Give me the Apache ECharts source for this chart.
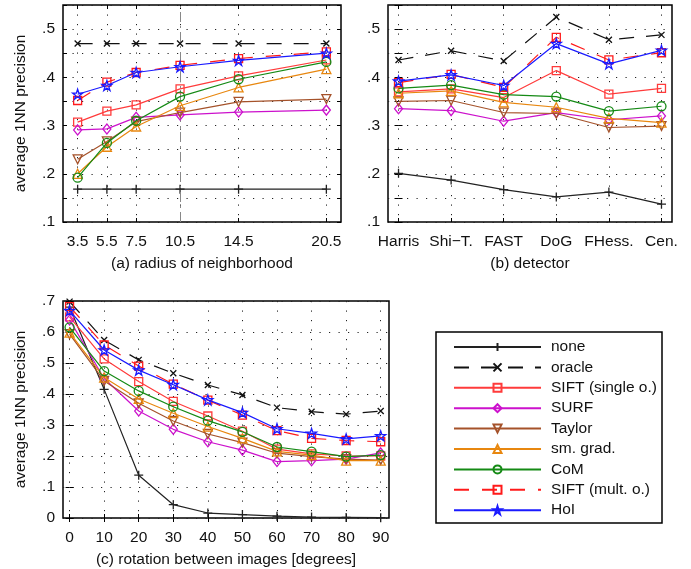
<!DOCTYPE html>
<html><head><meta charset="utf-8">
<script src="https://cdn.jsdelivr.net/npm/echarts@6/dist/echarts.min.js"></script>
<style>html,body{margin:0;padding:0;background:#fff}#c{width:691px;height:569px}</style>
</head><body><div id="c"></div>
<script>
// ---------- data ----------
const seriesNames = ['none','oracle','SIFT (single o.)','SURF','Taylor','sm. grad.','CoM','SIFT (mult. o.)','HoI'];

// (a) radius of neighborhood
const radius = [3.5, 5.5, 7.5, 10.5, 14.5, 20.5];
const highlightRadius = 10.5;
const a_none   = [0.168, 0.168, 0.168, 0.168, 0.168, 0.168];
const a_oracle = [0.470, 0.470, 0.470, 0.470, 0.470, 0.470];
const a_siftS  = [0.307, 0.330, 0.343, 0.376, 0.403, 0.436];
const a_surf   = [0.291, 0.293, 0.317, 0.322, 0.328, 0.332];
const a_taylor = [0.230, 0.267, 0.308, 0.327, 0.349, 0.355];
const a_smgrad = [0.200, 0.256, 0.298, 0.341, 0.379, 0.417];
const a_com    = [0.192, 0.264, 0.310, 0.360, 0.396, 0.432];
const a_siftM  = [0.352, 0.390, 0.410, 0.425, 0.439, 0.453];
const a_hoi    = [0.365, 0.383, 0.410, 0.422, 0.435, 0.450];

// (b) detector
const detectors = ['Harris', 'Shi\u2212T.', 'FAST', 'DoG', 'FHess.', 'Cen.'];
const b_none   = [0.201, 0.187, 0.167, 0.152, 0.162, 0.137];
const b_oracle = [0.436, 0.455, 0.434, 0.525, 0.478, 0.488];
const b_siftS  = [0.370, 0.376, 0.358, 0.414, 0.365, 0.377];
const b_surf   = [0.335, 0.331, 0.309, 0.327, 0.312, 0.320];
const b_taylor = [0.350, 0.352, 0.327, 0.325, 0.296, 0.299];
const b_smgrad = [0.367, 0.372, 0.348, 0.338, 0.315, 0.306];
const b_com    = [0.377, 0.384, 0.364, 0.360, 0.330, 0.340];
const b_siftM  = [0.389, 0.406, 0.379, 0.483, 0.436, 0.451];
const b_hoi    = [0.392, 0.405, 0.383, 0.470, 0.428, 0.456];

// (c) rotation between images
const rotation = [0, 10, 20, 30, 40, 50, 60, 70, 80, 90];
const c_none   = [0.680, 0.415, 0.138, 0.043, 0.016, 0.011, 0.006, 0.003, 0.002, 0.001];
const c_oracle = [0.698, 0.574, 0.510, 0.467, 0.429, 0.397, 0.356, 0.343, 0.335, 0.345];
const c_siftS  = [0.649, 0.513, 0.440, 0.376, 0.329, 0.280, 0.222, 0.207, 0.200, 0.200];
const c_surf   = [0.639, 0.450, 0.345, 0.286, 0.246, 0.219, 0.182, 0.185, 0.190, 0.210];
const c_taylor = [0.593, 0.442, 0.370, 0.313, 0.271, 0.243, 0.209, 0.198, 0.190, 0.187];
const c_smgrad = [0.598, 0.453, 0.384, 0.338, 0.295, 0.257, 0.215, 0.203, 0.185, 0.185];
const c_com    = [0.615, 0.474, 0.410, 0.359, 0.314, 0.278, 0.229, 0.214, 0.198, 0.203];
const c_siftM  = [0.682, 0.558, 0.490, 0.432, 0.380, 0.332, 0.282, 0.257, 0.250, 0.246];
const c_hoi    = [0.669, 0.542, 0.477, 0.430, 0.381, 0.340, 0.288, 0.273, 0.255, 0.265];

const detectorTicks = detectors.map((d, i) => i);

// ---------- styles ----------
const FONT = '"Liberation Sans", Arial, sans-serif';
const FS = 15.5;
const STAR = 'path://M50,0L61.23,34.55L97.55,34.55L68.17,55.9L79.39,90.45L50,69.1L20.61,90.45L31.83,55.9L2.45,34.55L38.77,34.55Z';
const PLUS = 'path://M5,0L5,10M0,5L10,5';
const CROSS = 'path://M0,0L10,10M10,0L0,10';
const styles = [
  {color:'#222222', symbol:PLUS, size:9, dash:'solid'},
  {color:'#111111', symbol:CROSS, size:6, dash:[15,12]},
  {color:'#ff3b3b', symbol:'rect', size:8, dash:'solid'},
  {color:'#cc11cc', symbol:'diamond', size:[8,10], dash:'solid'},
  {color:'#a5522a', symbol:'triangle', size:9, dash:'solid', rotate:180},
  {color:'#e8870f', symbol:'triangle', size:9, dash:'solid'},
  {color:'#158a15', symbol:'circle', size:9, dash:'solid'},
  {color:'#ff1a1a', symbol:'rect', size:8, dash:[15,13]},
  {color:'#1a1aff', symbol:STAR, size:10, dash:'solid'}
];

const panels = [
  {x: radius, ys: [a_none,a_oracle,a_siftS,a_surf,a_taylor,a_smgrad,a_com,a_siftM,a_hoi]},
  {x: detectorTicks, ys: [b_none,b_oracle,b_siftS,b_surf,b_taylor,b_smgrad,b_com,b_siftM,b_hoi]},
  {x: rotation, ys: [c_none,c_oracle,c_siftS,c_surf,c_taylor,c_smgrad,c_com,c_siftM,c_hoi]}
];

const series = [];
panels.forEach((p, pi) => {
  p.ys.forEach((ys, si) => {
    const st = styles[si];
    const s = {
      type:'line', name: seriesNames[si], xAxisIndex: pi, yAxisIndex: pi,
      data: p.x.map((xv, k) => [xv, ys[k]]),
      symbol: st.symbol, symbolSize: st.size, symbolRotate: st.rotate || 0,
      showAllSymbol: true, animation: false, silent: true,
      color: st.color,
      lineStyle: {color: st.color, width: 1.2, type: st.dash},
      itemStyle: {color: 'transparent', borderColor: st.color, borderWidth: 1.3},
      z: 3 + si
    };
    if (pi === 0 && si === 0) {
      s.markLine = {silent:true, symbol:'none', animation:false, label:{show:false},
        lineStyle:{color:'#888', width:1, type:[10,4,2,4]},
        data:[{xAxis: highlightRadius}]};
    }
    series.push(s);
  });
});

const fmtY = v => {
  const t = Math.round(v * 100);
  if (t % 10 !== 0) return '';
  if (t === 0) return '0';
  return '.' + (t / 10);
};
const dotted = {show:true, lineStyle:{color:'#222', width:1, type:[1.2,8.3]}};
const labelStyle = {color:'#111', fontFamily: FONT, fontSize: FS};
const nameStyle = {color:'#111', fontFamily: FONT, fontSize: FS};

const grids = [
  {left:63, top:5, width:278, height:217},
  {left:388, top:5, width:284, height:217},
  {left:63, top:301, width:326, height:217}
].map(g => Object.assign(g, {show:true, borderColor:'#000', borderWidth:1.5, backgroundColor:'#fff', containLabel:false, outerBoundsMode:'none'}));

const xDefs = [
  {min:2.5, max:21.5, ticks: radius, fmt: v => String(v), name:'(a) radius of neighborhood'},
  {min:-0.2, max:5.2, ticks: detectorTicks, fmt: v => detectors[Math.round(v)], name:'(b) detector'},
  {min:-1.9, max:92.4, ticks: rotation, fmt: v => String(v), name:'(c) rotation between images [degrees]'}
];
const xAxes = [];
xDefs.forEach((d, i) => {
  xAxes.push({type:'value', gridIndex:i, position:'bottom', min:d.min, max:d.max,
    name:d.name, nameLocation:'middle', nameGap:34, nameTextStyle:nameStyle, nameMoveOverlap:false,
    axisLine:{show:false},
    axisTick:{show:true, inside:true, length:4, customValues:d.ticks, lineStyle:{color:'#000'}},
    axisLabel:{show:true, customValues:d.ticks, formatter:d.fmt, margin:12, hideOverlap:false, showMinLabel:true, showMaxLabel:true, ...labelStyle},
    splitLine: dotted});
});
xDefs.forEach((d, i) => {
  xAxes.push({type:'value', gridIndex:i, position:'top', min:d.min, max:d.max,
    axisLine:{show:false}, axisLabel:{show:false}, splitLine:{show:false},
    axisTick:{show:true, inside:true, length:4, customValues:d.ticks, lineStyle:{color:'#000'}}});
});
const yDefs = [
  {min:0.1, max:0.55, interval:0.05, name:'average 1NN precision'},
  {min:0.1, max:0.55, interval:0.05, name:''},
  {min:0, max:0.7, interval:0.1, name:'average 1NN precision'}
];
const yAxes = [];
yDefs.forEach((d, i) => {
  yAxes.push({type:'value', gridIndex:i, position:'left', min:d.min, max:d.max, interval:d.interval,
    name:d.name, nameLocation:'middle', nameGap:34, nameTextStyle:nameStyle, nameMoveOverlap:false,
    axisLine:{show:false},
    axisTick:{show:true, inside:true, length:4, lineStyle:{color:'#000'}},
    axisLabel:{show:true, formatter:fmtY, margin:8, showMinLabel:true, showMaxLabel:true, ...labelStyle},
    splitLine: dotted});
});
yDefs.forEach((d, i) => {
  yAxes.push({type:'value', gridIndex:i, position:'right', min:d.min, max:d.max, interval:d.interval,
    axisLine:{show:false}, axisLabel:{show:false}, splitLine:{show:false},
    axisTick:{show:true, inside:true, length:4, lineStyle:{color:'#000'}}});
});

const chart = echarts.init(document.getElementById('c'), null, {renderer:'canvas'});
chart.setOption({
  animation:false,
  backgroundColor:'#fff',
  textStyle:{fontFamily: FONT},
  grid: grids,
  xAxis: xAxes,
  yAxis: yAxes,
  legend: {
    data: seriesNames, orient:'vertical', left:453, top:339, padding:0,
    itemWidth:87, itemHeight:10, itemGap:4.4, selectedMode:false,
    textStyle:{color:'#111', fontFamily:FONT, fontSize:FS, lineHeight:16, padding:[0,0,0,5]}
  },
  graphic: [{type:'rect', shape:{x:436, y:332, width:226, height:191}, style:{fill:null, stroke:'#000', lineWidth:1.5}, z:10}],
  series: series
});
</script>
</body></html>
